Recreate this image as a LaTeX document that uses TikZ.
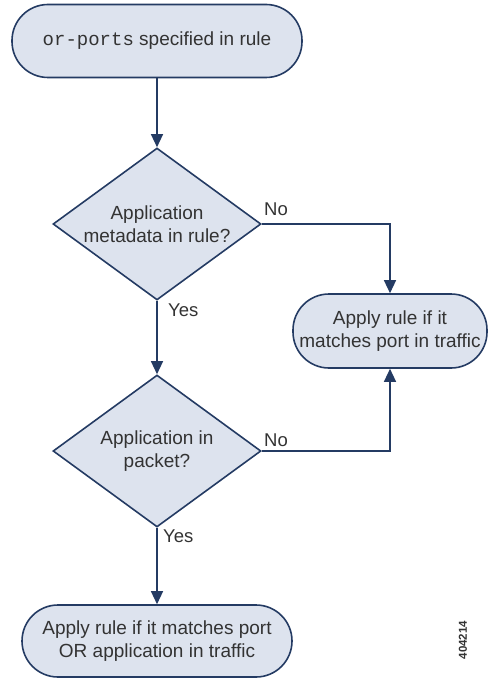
\documentclass[tikz,border=0pt]{standalone}
\usepackage{fontspec}
\setmainfont{Liberation Sans}
\setmonofont{Liberation Mono}
\usetikzlibrary{shapes.geometric,arrows.meta}
\definecolor{boxfill}{HTML}{DDE3EE}
\definecolor{boxline}{HTML}{243B63}
\definecolor{txt}{HTML}{333333}
\begin{document}
\begin{tikzpicture}[x=1pt,y=-1pt,
  term/.style={draw=boxline,fill=boxfill,line width=1.6pt,rectangle,rounded corners=36pt,
    align=center,text=txt,font=\fontsize{19}{23}\selectfont,inner sep=0pt},
  decide/.style={draw=boxline,fill=boxfill,line width=1.6pt,diamond,minimum width=208pt,
    minimum height=152pt,inner sep=0pt},
  dtext/.style={align=center,text=txt,font=\fontsize{19}{23}\selectfont,inner sep=0pt},
  conn/.style={draw=boxline,line width=1.3pt,-{Triangle[width=12pt,length=13pt]}},
  lbl/.style={text=txt,font=\fontsize{18.5}{22}\selectfont,inner sep=0pt}]
\useasboundingbox (0,0) rectangle (488,679);
\node[term,minimum width=290pt,minimum height=73pt] (start) at (157,41) {\texttt{or-ports} specified in rule};
\node[decide] (d1) at (157,224) {};
\node[dtext] (d1t) at (d1.center) {Application\\metadata in rule?};
\node[term,minimum width=194pt,minimum height=74pt] (port) at (390,331) {Apply rule if it\\matches port in traffic};
\node[decide] (d2) at (157,451) {};
\node[dtext] (d2t) at (d2.center) {Application in\\packet?};
\node[term,minimum width=270pt,minimum height=72pt] (both) at (157,641) {Apply rule if it matches port\\OR application in traffic};
\draw[conn] (start) -- (d1);
\draw[conn] (d1) -- (d2);
\draw[conn] (d2) -- (both);
\draw[conn] (d1.east) -| (port.north);
\draw[conn] (d2.east) -| (port.south);
\node[lbl,anchor=west] (no1) at (264,209) {No};
\node[lbl,anchor=west] (no2) at (264,440) {No};
\node[lbl,anchor=west] (yes1) at (168,310) {Yes};
\node[lbl,anchor=west] (yes2) at (163,536) {Yes};
\node[rotate=90,font=\bfseries\fontsize{11.5}{12}\selectfont,text=txt] (num) at (463,640) {404214};
\end{tikzpicture}
\end{document}
